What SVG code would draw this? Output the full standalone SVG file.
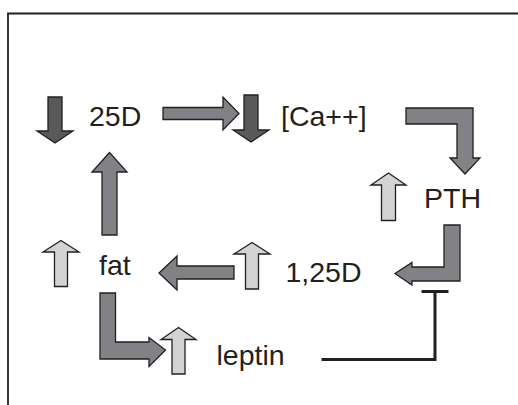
<svg xmlns="http://www.w3.org/2000/svg" width="518" height="405" viewBox="0 0 518 405">
<style>
.t{font-family:"Liberation Sans",Arial,sans-serif;font-size:28.5px;fill:#231f20}
.a{stroke:#231f20;stroke-width:1.3;stroke-linejoin:miter}
.dk{fill:#58595b}
.md{fill:#808285}
.lt{fill:#d1d3d4}
.ln{fill:none;stroke:#231f20;stroke-width:3}
</style>
<rect width="518" height="405" fill="#fff"/>
<path d="M8,405 V13.5 H518" fill="none" stroke="#231f20" stroke-width="1.8"/>
<g id="n25D"><text class="t" x="89" y="125.5">25D</text></g>
<g id="nCa"><text class="t" x="281" y="125.5">[Ca++]</text></g>
<g id="nPTH"><text class="t" x="424" y="207.5">PTH</text></g>
<g id="nfat"><text class="t" x="99" y="275">fat</text></g>
<g id="n125D"><text class="t" x="285.5" y="282">1,25D</text></g>
<g id="nleptin"><text class="t" x="216.5" y="365">leptin</text></g>
<g id="indicators">
<polygon class="a dk" points="48,97 62,97 62,131 73,131 55,143 37,131 48,131"/>
<polygon class="a dk" points="244,95 258,95 258,130 269,130 251,142 233,130 244,130"/>
<polygon class="a lt" points="381.5,220.5 395.5,220.5 395.5,185 406,185 388.5,173 371,185 381.5,185"/>
<polygon class="a lt" points="54.5,286.5 67.5,286.5 67.5,252 79,252 61,240.5 43,252 54.5,252"/>
<polygon class="a lt" points="245.5,289 258.5,289 258.5,254 270,254 252,242.5 234,254 245.5,254"/>
<polygon class="a lt" points="172,374 185,374 185,339.5 196,339.5 178.5,327.5 161,339.5 172,339.5"/>
</g>
<g id="connectors">
<polygon class="a md" points="163,107.5 223,107.5 223,97 239,113.5 223,130 223,119.5 163,119.5"/>
<polygon class="a md" points="406,108 473,108 473,158 480,158 465,174 450,158 457,158 457,124 406,124"/>
<polygon class="a md" points="102,235 117,235 117,172 127,172 109.5,152.5 92,172 102,172"/>
<polygon class="a md" points="234,266 234,279 177,279 177,290 159,273 177,256 177,266"/>
<polygon class="a md" points="444,225 460,225 460,281 412,281 412,285 395,273.5 412,262.5 412,267 444,267"/>
<polygon class="a md" points="100,293 115.5,293 115.5,342 149,342 149,337.5 165.5,350 149,366.5 149,359 100,359"/>
<polyline class="ln" points="321.5,359.5 435,359.5 435,291.5"/>
<line class="ln" x1="421.5" y1="291.5" x2="448.5" y2="291.5"/>
</g>
</svg>
